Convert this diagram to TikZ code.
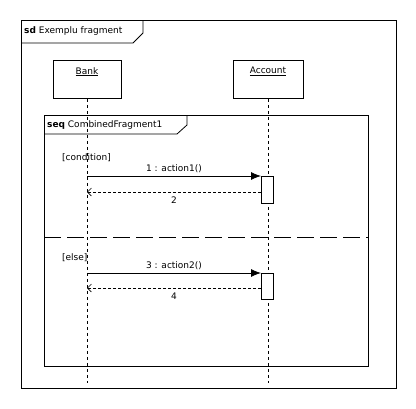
\documentclass[tikz,border=0pt]{standalone}
\usepackage{fontspec}
\setmainfont{DejaVu Sans}
\usetikzlibrary{arrows.meta}

\tikzset{
  frame/.style={draw, line width=0.8pt},
  headbox/.style={draw, line width=0.8pt, minimum height=38pt, anchor=north, inner sep=0pt},
  lifeline/.style={line width=0.6pt, dash pattern=on 3pt off 3pt},
  actbox/.style={draw, line width=0.8pt, fill=white, minimum width=12pt, anchor=north west, inner sep=0pt},
  callmsg/.style={line width=0.8pt, -{Latex[length=10pt,width=8pt]}},
  replymsg/.style={line width=0.6pt, dash pattern=on 3pt off 2pt, -{Straight Barb[length=4pt,width=8pt]}},
  lbl/.style={font=\fontsize{9}{11}\selectfont, inner sep=1pt}
}

\begin{document}
\begin{tikzpicture}[x=1pt, y=-1pt]
  \useasboundingbox (0,0) rectangle (416,408);

  % outer sd frame
  \draw[frame] (21,20) rectangle (396,388);
  \draw[frame] (21,43) -- (133,43) -- (143,33) -- (143,20);
  \node[lbl, anchor=west] (sdlabel) at (23,31) {\textbf{sd} Exemplu fragment};

  % lifelines
  \node[headbox, minimum width=68pt, label={[lbl, anchor=north, yshift=-6pt]north:\underline{Bank}}] (bank) at (87,60) {};
  \node[headbox, minimum width=70pt, label={[lbl, anchor=north, yshift=-6pt]north:\underline{Account}}] (account) at (268,60) {};
  \coordinate (bankend) at (bank.south |- 0,383);
  \coordinate (accend) at (account.south |- 0,383);
  \draw[lifeline] (bank.south) -- (bankend);
  \draw[lifeline] (account.south) -- (accend);

  % combined fragment
  \draw[frame] (44,115) rectangle (368,366);
  \draw[frame] (44,134) -- (177,134) -- (187,125) -- (187,115);
  \node[lbl, anchor=west] (seqlabel) at (46,125) {\textbf{seq} CombinedFragment1};
  \coordinate (sepleft) at (44,237);
  \coordinate (sepright) at (368,237);
  \draw[line width=0.8pt, dash pattern=on 17pt off 6pt] (sepleft) -- (sepright);

  % first operand
  \node[lbl, anchor=west] (guard1) at (61,158) {[condition]};
  \node[actbox, minimum height=27pt] (act1) at (261,176) {};
  \coordinate (ret1) at ([yshift=-16pt]act1.north west);
  \draw[callmsg] (bankend |- act1.north west) -- node[lbl, above=2pt] (msg1) {1 : action1()} (act1.north west);
  \draw[replymsg] (ret1) -- node[lbl, below=4pt] (msg2) {2} (bankend |- ret1);

  % second operand
  \node[lbl, anchor=west] (guard2) at (61,258) {[else]};
  \node[actbox, minimum height=26pt] (act2) at (261,273) {};
  \coordinate (ret2) at ([yshift=-15pt]act2.north west);
  \draw[callmsg] (bankend |- act2.north west) -- node[lbl, above=2pt] (msg3) {3 : action2()} (act2.north west);
  \draw[replymsg] (ret2) -- node[lbl, below=4pt] (msg4) {4} (bankend |- ret2);
\end{tikzpicture}
\end{document}
